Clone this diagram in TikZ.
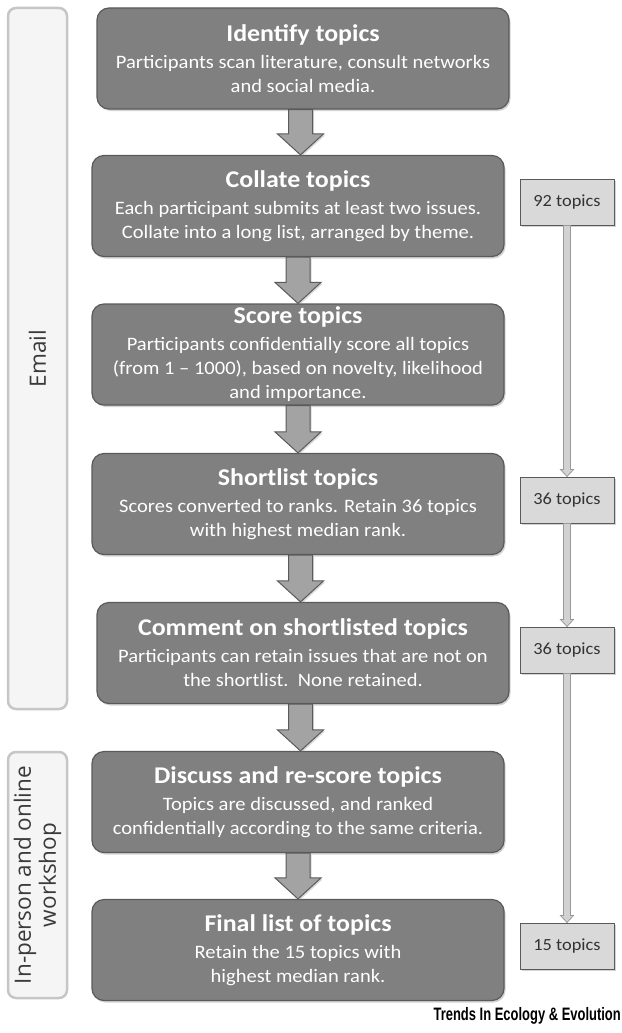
\documentclass[tikz,border=0pt]{standalone}
\usepackage{graphicx}
\usepackage{fontspec}
\setmainfont{Carlito}
\newfontfamily\stepfont{Carlito}[FakeStretch=1.08,Ligatures=TeX]
\newfontfamily\phasefont{Open Sans}
\newfontfamily\creditfont{Liberation Sans}
\usetikzlibrary{calc,shadows}
\definecolor{stepfill}{HTML}{808080}
\definecolor{stepdraw}{HTML}{5A5A5A}
\definecolor{arrowfill}{HTML}{A3A3A3}
\definecolor{countfill}{HTML}{D9D9D9}
\definecolor{countarrow}{HTML}{D2D2D2}
\definecolor{phasefill}{HTML}{F5F5F5}
\definecolor{phasedraw}{HTML}{C6C6C6}
\definecolor{phasetext}{HTML}{3A3A3A}
\tikzset{
  topic step/.style={draw=stepdraw,fill=stepfill,line width=1.2pt,rounded corners=12pt,
    minimum width=412pt,minimum height=101pt,inner sep=0pt,align=center,text=white,
    font=\stepfont\fontsize{19}{24}\selectfont,
    drop shadow={shadow xshift=1.5pt,shadow yshift=-2pt,opacity=.35}},
  topic count/.style={draw=stepdraw,fill=countfill,line width=1pt,
    minimum width=94pt,minimum height=46pt,inner sep=0pt,text=black!80,
    font=\stepfont\fontsize{17}{20}\selectfont,
    drop shadow={shadow xshift=1.5pt,shadow yshift=-1.5pt,opacity=.35}},
  topic phase/.style={draw=phasedraw,fill=phasefill,line width=2.5pt,rounded corners=8pt,
    rotate=90,minimum height=59pt,inner sep=0pt,align=center,text=phasetext,
    font=\phasefont\fontsize{22.5}{25}\selectfont},
  topic arrow/.style={draw=stepdraw,fill=arrowfill,line width=1pt,line join=miter,
    drop shadow={shadow xshift=1.5pt,shadow yshift=-1.5pt,opacity=.3}},
  count arrow/.style={draw=black!40,fill=countarrow,line width=.8pt,line join=miter}
}
\newcommand\steptitle[1]{{\fontsize{24}{28}\selectfont\bfseries #1}\\[3pt]}

\begin{document}
\begin{tikzpicture}[x=1pt,y=-1pt]
  \useasboundingbox (0,0) rectangle (621,1033);
  % phases
  \node[topic phase,minimum width=701pt] (email) at (37.5,358.5) {Email};
  \node[topic phase,minimum width=246pt] (workshop) at (37.5,875) {In-person and online\\workshop};
  % steps
  \node[topic step] (identify) at (303,58.5) {\steptitle{Identify topics}Participants scan literature, consult networks\\and social media.};
  \node[topic step] (collate) at (298,206) {\steptitle{Collate topics}Each participant submits at least two issues.\\Collate into a long list, arranged by theme.};
  \node[topic step] (score) at (298,354.5) {\steptitle{Score topics}Participants confidentially score all topics\\(from 1 \textendash{} 1000), based on novelty, likelihood\\and importance.};
  \node[topic step] (shortlist) at (298,504) {\steptitle{Shortlist topics}Scores converted to ranks. Retain 36 topics\\with highest median rank.};
  \node[topic step] (comment) at (303,653) {\steptitle{Comment on shortlisted topics}Participants can retain issues that are not on\\the shortlist.\ \ None retained.};
  \node[topic step] (discuss) at (298,802) {\steptitle{Discuss and re-score topics}Topics are discussed, and ranked\\confidentially according to the same criteria.};
  \node[topic step] (final) at (298,950) {\steptitle{Final list of topics}Retain the 15 topics with\\highest median rank.};
  % counts
  \node[topic count] (count92) at (567,202) {92 topics};
  \node[topic count] (count36) at (567,500) {36 topics};
  \node[topic count] (count36r) at (567,650) {36 topics};
  \node[topic count] (count15) at (567,946) {15 topics};
  % block arrows
  \foreach \a/\b in {identify/collate,collate/score,score/shortlist,shortlist/comment,comment/discuss,discuss/final}{
    \draw[topic arrow] let \p1=(\a.south), \p2=(\b.north), \p3=({(\x1+\x2)/2},\y2) in
      (\x3-12pt,\y1) -- (\x3+12pt,\y1) -- (\x3+12pt,\y3+21pt) -- (\x3+23pt,\y3+21pt)
      -- (\x3,\y3) -- (\x3-23pt,\y3+21pt) -- (\x3-12pt,\y3+21pt) -- cycle;
  }
  \foreach \a/\b in {count92/count36,count36/count36r,count36r/count15}{
    \draw[count arrow] let \p1=(\a.south), \p2=(\b.north) in
      (\x1-3.5pt,\y1) -- (\x1+3.5pt,\y1) -- (\x1+3.5pt,\y2+7pt) -- (\x1+6.5pt,\y2+7pt)
      -- (\x2,\y2) -- (\x1-6.5pt,\y2+7pt) -- (\x1-3.5pt,\y2+7pt) -- cycle;
  }
  \node[anchor=east,inner sep=0pt,text=black,font=\creditfont\fontsize{18}{20}\selectfont\bfseries] (credit) at (621,1016)
    {\scalebox{0.72}[1]{Trends In Ecology \& Evolution}};
\end{tikzpicture}
\end{document}
